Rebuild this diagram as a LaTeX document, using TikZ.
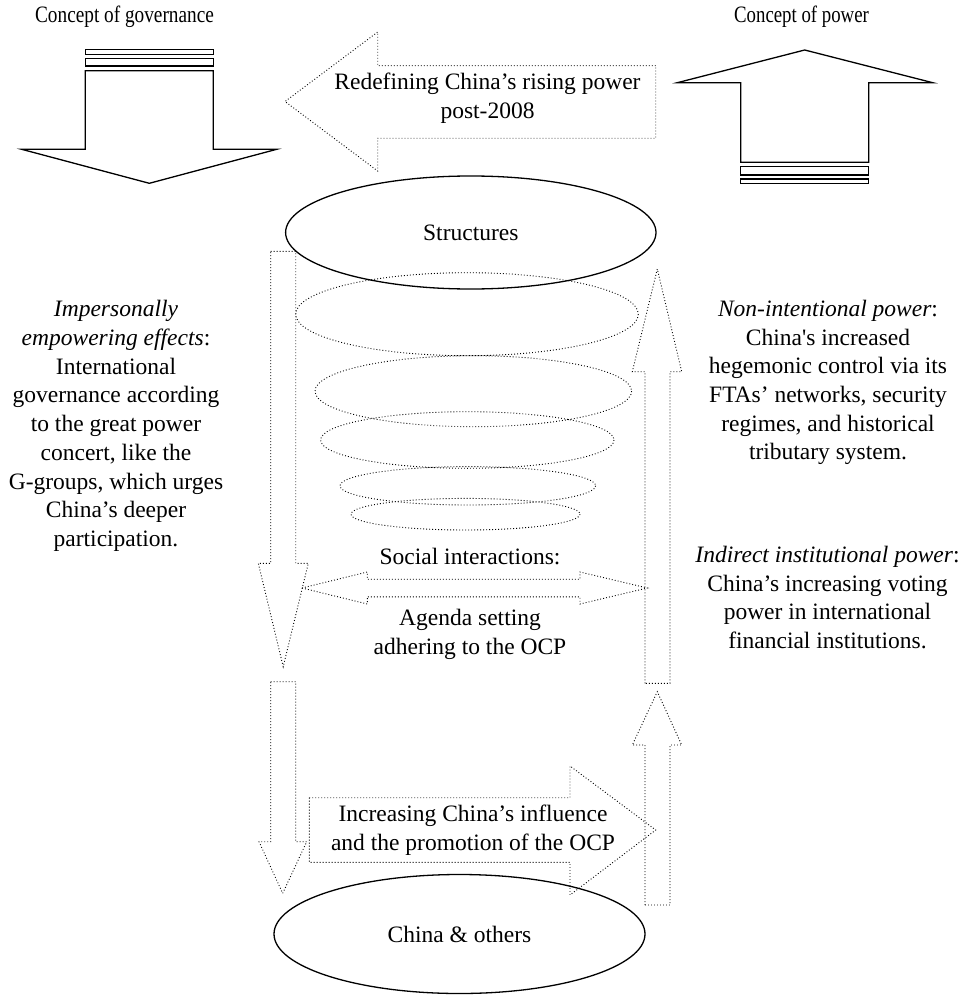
\documentclass[tikz,border=0pt]{standalone}
\usepackage{fontspec}
\usepackage{graphicx}
\setmainfont{Liberation Serif}
\newcommand\sqapos{{\XeTeXglyph\XeTeXglyphindex "quotesingle" \relax}}
\usetikzlibrary{shapes.geometric}
\begin{document}
\begin{tikzpicture}[x=1pt,y=-1pt,
  solidline/.style={draw=black,line width=1.3pt,line join=miter},
  dotline/.style={draw=black,line width=0.9pt,dash pattern=on 0.9pt off 2.1pt},
  body/.style={font=\fontsize{23.5}{28.5}\selectfont, align=center, inner sep=0pt},
  sidetext/.style={font=\fontsize{23.5}{28.7}\selectfont, align=center, inner sep=0pt},
  titletext/.style={font=\fontsize{23.5}{28}\selectfont, inner sep=0pt},
  bigoval/.style={ellipse, draw=black, line width=1.3pt, inner sep=0pt, font=\fontsize{23.5}{28.5}\selectfont}]
\useasboundingbox (0,0) rectangle (965,995);

% titles
\node[titletext] (tgov) at (124.5,17) {\scalebox{0.82}[1]{Concept of governance}};
\node[titletext] (tpow) at (801.5,17) {\scalebox{0.8}[1]{Concept of power}};

% solid down arrow (governance)
\draw[solidline] (85.3,70.7) -- (213.3,70.7) -- (213.3,149.3) -- (276.7,149.3) -- (149.3,183.3) -- (21.7,149.3) -- (85.3,149.3) -- cycle;
\draw[solidline] (85.3,49.3) rectangle (213.3,54.3);
\draw[solidline] (85.3,58.3) rectangle (213.3,66);

% solid up arrow (power)
\draw[solidline] (740.7,162.3) -- (740.7,82.7) -- (677.3,82.7) -- (804.7,50) -- (932.7,82.7) -- (868.7,82.7) -- (868.7,162.3) -- cycle;
\draw[solidline] (740.7,166.3) rectangle (868.7,175);
\draw[solidline] (740.7,179) rectangle (868.7,183.7);

% redefining arrow
\draw[dotline] (655.7,65.7) -- (377.7,65.7) -- (377.7,32) -- (285,101.5) -- (377.7,171) -- (377.7,138.3) -- (655.7,138.3) -- cycle;
\node[body] (redef) at (487.5,98) {Redefining China’s rising power\\post-2008};

% ovals
\node[bigoval, minimum width=370.4pt, minimum height=113pt] (struct) at (470.8,232.5) {Structures};
\node[bigoval, minimum width=371pt, minimum height=119pt] (china) at (459.5,934) {China \& others};

% dotted spiral ellipses
\draw[dotline] (467,314.2) ellipse [x radius=171.3, y radius=41.5];
\draw[dotline] (473.3,391.2) ellipse [x radius=158.3, y radius=35.5];
\draw[dotline] (467.3,440) ellipse [x radius=146.7, y radius=28.3];
\draw[dotline] (467.8,485.8) ellipse [x radius=127.8, y radius=19.2];
\draw[dotline] (465.5,514.2) ellipse [x radius=114.5, y radius=15.8];

% left down arrows
\draw[dotline] (270.7,251.3) -- (295.7,251.3) -- (295.7,563.3) -- (308.3,563.3) -- (283.2,666.7) -- (258.3,563.3) -- (270.7,563.3) -- cycle;
\draw[dotline] (270.7,681.7) -- (295.7,681.7) -- (295.7,841.7) -- (306.7,841.7) -- (282.7,893.3) -- (259,841.7) -- (270.7,841.7) -- cycle;

% right up arrows
\draw[dotline] (645,683.3) -- (645,371.7) -- (632.3,371.7) -- (657.3,269) -- (681.7,371.7) -- (670,371.7) -- (670,683.3) -- cycle;
\draw[dotline] (645,905) -- (645,745) -- (632.3,745) -- (657.3,691.7) -- (681.7,745) -- (670,745) -- (670,905) -- cycle;

% double arrow
\draw[dotline] (302,588) -- (367.3,572) -- (367.3,579.2) -- (580,579.2) -- (580,572) -- (647.3,588) -- (580,604) -- (580,596.8) -- (367.3,596.8) -- (367.3,604) -- cycle;
\node[body] (social) at (470,556.7) {Social interactions:};
\node[body] (agenda) at (470,634.5) {Agenda setting\\adhering to the OCP};

% increasing arrow
\draw[dotline] (309.3,797.7) -- (570,797.7) -- (570,766) -- (655.7,830) -- (570,895) -- (570,862.3) -- (309.3,862.3) -- cycle;
\node[body] (incr) at (473,830) {Increasing China’s influence\\and the promotion of the OCP};

% side texts
\node[sidetext] (left) at (116,426) {{\itshape Impersonally}\\{\itshape empowering effects}:\\International\\governance according\\to the great power\\concert, like the\\G-groups, which urges\\China’s deeper\\participation.};
\node[sidetext] (rightup) at (828,382.5) {{\itshape Non-intentional power}:\\China\sqapos s increased\\hegemonic control via its\\FTAs’ networks, security\\regimes, and historical\\tributary system.};
\node[sidetext] (rightlow) at (827.5,597.5) {{\itshape Indirect institutional power}:\\China’s increasing voting\\power in international\\financial institutions.};
\end{tikzpicture}
\end{document}
